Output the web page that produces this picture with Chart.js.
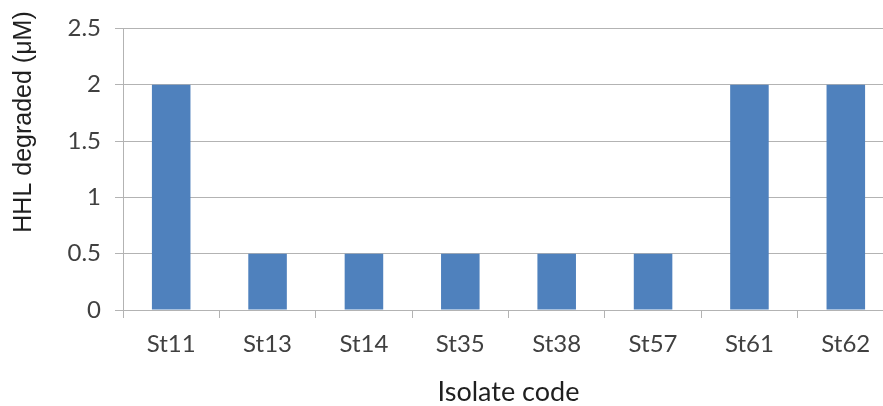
<!DOCTYPE html>
<html>
<head>
<meta charset="utf-8">
<script src="https://cdn.jsdelivr.net/npm/chart.js@4.4.1/dist/chart.umd.min.js"></script>
<style>
  html, body { margin: 0; padding: 0; background: #fff; overflow: hidden; }
  #wrap { position: relative; width: 894px; height: 406px; }
</style>
</head>
<body>
<div id="wrap"><canvas id="chart"></canvas></div>
<script>
// datos
const isolates = ['St11', 'St13', 'St14', 'St35', 'St38', 'St57', 'St61', 'St62'];
const hhlDegraded = [2, 0.5, 0.5, 0.5, 0.5, 0.5, 2, 2];
const yTicks = [0, 0.5, 1, 1.5, 2, 2.5];
const yTitle = 'HHL degraded (μM)';
const xTitle = 'Isolate code';

const FONT = 'Lato, "Open Sans", sans-serif';
const TEXT = '#404040';
const TITLE = '#1f1f1f';
const GRID = '#b3b3b3';

// título del eje Y dibujado a mano (en el original no está centrado en el eje)
const yTitlePlugin = {
    id: 'yTitle',
    afterDraw(chart) {
        const ctx = chart.ctx;
        ctx.save();
        ctx.translate(24, 122);
        ctx.rotate(-Math.PI / 2);
        ctx.font = '25px "Liberation Sans", Arial, sans-serif';
        ctx.fillStyle = TITLE;
        ctx.textAlign = 'center';
        ctx.textBaseline = 'middle';
        ctx.fillText(yTitle, 0, 0);
        ctx.restore();
    }
};

new Chart(document.getElementById('chart'), {
    type: 'bar',
    data: {
        labels: isolates,
        datasets: [{
            label: 'HHL degraded',
            data: hhlDegraded,
            backgroundColor: '#4f81bd',
            borderWidth: 0,
            barPercentage: 0.4,
            categoryPercentage: 1
        }]
    },
    options: {
        responsive: true,
        maintainAspectRatio: false,
        animation: false,
        layout: { padding: { top: 26, right: 0, left: 0, bottom: 0 } },
        plugins: { legend: { display: false }, tooltip: { enabled: false } },
        scales: {
            x: {
                afterFit: s => { s.height = 96; },
                grid: { display: true, drawOnChartArea: false, drawTicks: true, tickLength: 8, color: GRID, offset: true },
                border: { color: GRID },
                ticks: { color: TEXT, font: { family: FONT, size: 24 }, padding: 12 },
                title: { display: true, text: xTitle, color: TITLE, font: { family: FONT, size: 27 }, padding: { top: 0, bottom: -2 } }
            },
            y: {
                min: 0,
                max: 2.5,
                afterFit: s => { s.width = 123; },
                afterBuildTicks: s => { s.ticks = yTicks.map(v => ({ value: v })); },
                grid: { color: GRID, drawTicks: true, tickLength: 8 },
                border: { color: GRID },
                ticks: { color: TEXT, font: { family: FONT, size: 24 }, padding: 14, callback: v => String(v) }
            }
        }
    },
    plugins: [yTitlePlugin]
});
</script>
</body>
</html>
